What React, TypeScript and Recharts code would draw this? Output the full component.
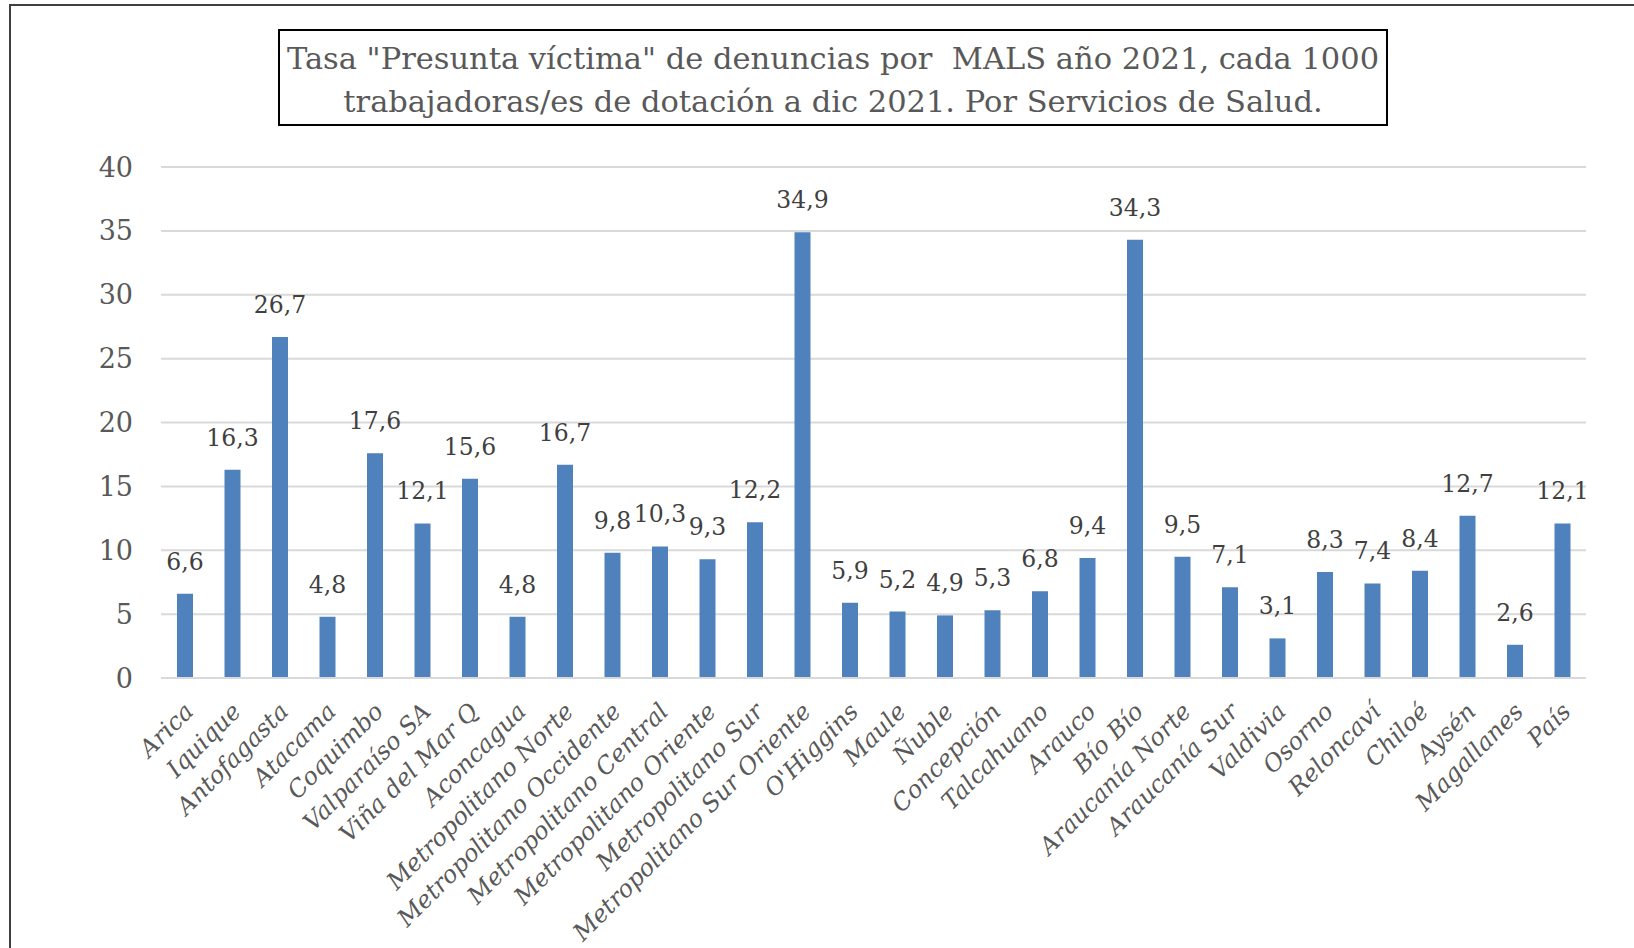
import { BarChart, Bar, XAxis, YAxis, CartesianGrid, LabelList } from 'recharts'

const servicios = [
  'Arica', 'Iquique', 'Antofagasta', 'Atacama', 'Coquimbo', 'Valparaíso SA',
  'Viña del Mar Q', 'Aconcagua', 'Metropolitano Norte', 'Metropolitano Occidente',
  'Metropolitano Central', 'Metropolitano Oriente', 'Metropolitano Sur',
  'Metropolitano Sur Oriente', "O'Higgins", 'Maule', 'Ñuble', 'Concepción',
  'Talcahuano', 'Arauco', 'Bío Bío', 'Araucanía Norte', 'Araucanía Sur',
  'Valdivia', 'Osorno', 'Reloncaví', 'Chiloé', 'Aysén', 'Magallanes', 'País',
]

const tasas = [
  6.6, 16.3, 26.7, 4.8, 17.6, 12.1, 15.6, 4.8, 16.7, 9.8, 10.3, 9.3, 12.2, 34.9,
  5.9, 5.2, 4.9, 5.3, 6.8, 9.4, 34.3, 9.5, 7.1, 3.1, 8.3, 7.4, 8.4, 12.7, 2.6, 12.1,
]

const yTicks = [0, 5, 10, 15, 20, 25, 30, 35, 40]

const titleLines = [
  'Tasa "Presunta víctima" de denuncias por  MALS año 2021, cada 1000',
  'trabajadoras/es de dotación a dic 2021. Por Servicios de Salud.',
]

const FONT = '"DejaVu Serif", serif'

const data = servicios.map((name, i) => ({ name, value: tasas[i] }))

function XTick({ x, y, payload }: any) {
  return (
    <g transform={`translate(${x + 10},${y + 27})`}>
      <text
        transform="rotate(-45)"
        textAnchor="end"
        fontFamily={FONT}
        fontStyle="italic"
        fontSize={24}
        fill="#595959"
      >
        {payload.value}
      </text>
    </g>
  )
}

export default function App() {
  return (
    <div style={{ position: 'absolute', left: 0, top: 0, width: 1634, height: 948, background: '#fff', overflow: 'hidden' }}>
      <div style={{ position: 'absolute', left: 9, top: 4, width: 1700, height: 1100, border: '2px solid #404040' }} />
      <div
        style={{
          position: 'absolute', left: 278, top: 29, width: 1110, height: 97,
          border: '2px solid #000', fontFamily: FONT, fontSize: 30.5, color: '#595959',
          textAlign: 'center', lineHeight: '43px', paddingTop: 6, boxSizing: 'border-box',
          whiteSpace: 'pre',
        }}
      >
        {titleLines.map(l => <div key={l}>{l}</div>)}
      </div>
      <div style={{ position: 'absolute', left: 0, top: 0 }}>
        <BarChart
          width={1634}
          height={948}
          data={data}
          margin={{ top: 167, right: 48, left: 101, bottom: 10 }}
        >
          <CartesianGrid vertical={false} stroke="#d9d9d9" strokeWidth={2} />
          <XAxis
            dataKey="name"
            interval={0}
            tick={<XTick />}
            tickLine={false}
            axisLine={{ stroke: '#d9d9d9', strokeWidth: 2 }}
            height={260}
          />
          <YAxis
            width={60}
            domain={[0, 40]}
            ticks={yTicks}
            tickLine={false}
            axisLine={false}
            tickMargin={22}
            tick={{ fontFamily: FONT, fontSize: 27, fill: '#595959' }}
          />
          <Bar dataKey="value" fill="#4f81bd" barSize={16} isAnimationActive={false}>
            <LabelList
              dataKey="value"
              position="top"
              offset={24}
              formatter={(v: any) => String(v).replace('.', ',')}
              style={{ fontFamily: FONT, fontSize: 23.5, fill: '#404040' }}
            />
          </Bar>
        </BarChart>
      </div>
    </div>
  )
}
